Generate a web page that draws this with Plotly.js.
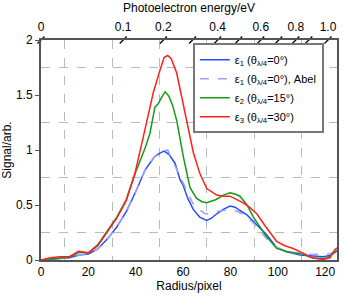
<!DOCTYPE html>
<html>
<head>
<meta charset="utf-8">
<script src="https://cdn.plot.ly/plotly-3.0.1.min.js"></script>
<style>html,body{margin:0;padding:0;background:#fff}#chart{width:345px;height:299px}</style>
</head>
<body>
<div id="chart"></div>
<script>
// Radius (pixel) sample positions and signals
const blueX  = [0, 4, 8, 12, 16, 20, 24, 28, 32, 36, 40, 44, 48, 50, 52, 54, 56.6, 58.7, 60, 62, 64.3, 67, 70, 72, 74.2, 77, 79.8, 82, 84, 87, 89.7, 92.5, 95.3, 99.5, 103.7, 109.4, 115, 119.2, 122, 124.2, 125];
const blueY  = [0, 0.005, 0.01, 0.02, 0.045, 0.055, 0.1, 0.19, 0.3, 0.44, 0.62, 0.82, 0.94, 0.97, 0.99, 0.96, 0.88, 0.73, 0.68, 0.56, 0.46, 0.39, 0.36, 0.38, 0.42, 0.46, 0.49, 0.48, 0.45, 0.41, 0.35, 0.29, 0.23, 0.115, 0.075, 0.045, 0.035, 0.03, 0.04, 0.075, 0.085];

const abelX  = [0, 4, 8, 12, 16, 20, 24, 28, 32, 36, 40, 44, 48, 50, 52, 53.5, 55.2, 58, 60, 62, 64, 66, 69.3, 72, 74, 77, 79.8, 82, 85, 88, 90, 95, 100, 105, 110, 115, 120, 122, 124, 125];
const abelY  = [0, 0.005, 0.01, 0.02, 0.045, 0.055, 0.1, 0.19, 0.3, 0.44, 0.62, 0.82, 0.94, 0.97, 0.99, 1.0, 0.92, 0.79, 0.7, 0.6, 0.52, 0.47, 0.42, 0.42, 0.44, 0.45, 0.46, 0.45, 0.42, 0.37, 0.33, 0.2, 0.11, 0.07, 0.055, 0.05, 0.05, 0.055, 0.08, 0.09];

const greenX = [0, 4, 8, 12, 16, 20, 24, 28, 32, 36, 40, 44, 46, 48.1, 49.5, 51, 52.4, 54, 55.5, 57.3, 60.1, 62.9, 65.7, 68, 70, 74, 77, 79.8, 82, 84, 87, 89.7, 92.5, 95, 99.5, 104, 109.4, 115, 120.6, 124, 125];
const greenY = [0, 0.01, 0.015, 0.025, 0.07, 0.065, 0.14, 0.27, 0.39, 0.55, 0.8, 1.02, 1.15, 1.39, 1.42, 1.48, 1.53, 1.49, 1.41, 1.27, 0.94, 0.66, 0.56, 0.53, 0.52, 0.55, 0.59, 0.61, 0.6, 0.58, 0.5, 0.39, 0.3, 0.22, 0.105, 0.075, 0.06, 0.015, 0.015, 0.06, 0.08];

const redX   = [0, 4, 8, 12, 15.8, 20, 24, 28, 32, 36, 39.7, 43.2, 47.4, 50.3, 52, 53.5, 55, 57.3, 60.8, 64.3, 67, 70, 74.2, 77, 79.8, 82.5, 85.4, 88, 91.1, 95, 99.5, 103, 106.5, 110, 113.6, 116.5, 119.2, 122, 124, 125];
const redY   = [0, 0.02, 0.03, 0.03, 0.08, 0.065, 0.13, 0.26, 0.38, 0.54, 0.79, 1.12, 1.52, 1.73, 1.84, 1.86, 1.83, 1.7, 1.33, 0.98, 0.79, 0.65, 0.59, 0.58, 0.58, 0.55, 0.52, 0.48, 0.42, 0.3, 0.17, 0.13, 0.105, 0.07, 0.03, 0.012, 0.005, 0.02, 0.09, 0.11];

// Top energy axis: labelled positions (in radius units) and all slash-tick positions
const energyLabelPos  = [0, 34.7, 51.7, 74.6, 92.8, 107.6, 121.2];
const energyLabelText = ['0', '0.1', '0.2', '0.4', '0.6', '0.8', '1.0'];
const energyTickPos   = [0, 34.7, 51.7, 64, 74.6, 83.5, 92.8, 100.4, 107.6, 113.1, 121.2, 125.4];
const energyTickLevel = energyTickPos.map(() => 2);

const seriesNames = [
  'ε<sub>1</sub> (θ<sub>λ/4</sub>=0°)',
  'ε<sub>1</sub> (θ<sub>λ/4</sub>=0°), Abel',
  'ε<sub>2</sub> (θ<sub>λ/4</sub>=15°)',
  'ε<sub>3</sub> (θ<sub>λ/4</sub>=30°)'
];

const FONT = 'Liberation Sans, Arial, sans-serif';
const gridCol = '#b4bcbc';

const traces = [
  {x: blueX, y: blueY, name: seriesNames[0], mode: 'lines', line: {color: '#2a4dff', width: 1.5}},
  {x: abelX, y: abelY, name: seriesNames[1], mode: 'lines', line: {color: '#9aa0ff', width: 1.5, dash: 'dash'}},
  {x: greenX, y: greenY, name: seriesNames[2], mode: 'lines', line: {color: '#179a17', width: 1.5}},
  {x: redX, y: redY, name: seriesNames[3], mode: 'lines', line: {color: '#ff2020', width: 1.5}},
  {x: energyTickPos, y: energyTickLevel, xaxis: 'x2', yaxis: 'y', mode: 'markers', showlegend: false,
   hoverinfo: 'skip', cliponaxis: false,
   marker: {symbol: 'line-ne', size: 7, color: '#000', line: {color: '#000', width: 1.2}}}
];

const layout = {
  width: 345, height: 299,
  margin: {l: 41, r: 8, t: 40, b: 39},
  paper_bgcolor: '#fff', plot_bgcolor: '#fff',
  font: {family: FONT, size: 11, color: '#000'},
  showlegend: true,
  legend: {
    x: 0.513, y: 0.985, xanchor: 'left', yanchor: 'top',
    bgcolor: '#fff', bordercolor: '#777', borderwidth: 2,
    font: {family: FONT, size: 11, color: '#000'},
    tracegroupgap: 0, itemwidth: 30
  },
  xaxis: {
    range: [0, 125], dtick: 20, tick0: 0,
    showline: true, linecolor: '#555', linewidth: 2, mirror: true,
    ticks: '', showgrid: false, zeroline: false,
    minor: {dtick: 10, showgrid: true, gridcolor: gridCol, griddash: 'dash', gridwidth: 1},
    tickfont: {size: 12},
    title: {text: 'Radius/pixel', font: {size: 12}, standoff: 2}
  },
  xaxis2: {
    range: [0, 125], overlaying: 'x', side: 'top',
    tickmode: 'array', tickvals: energyLabelPos, ticktext: energyLabelText,
    ticks: '', showgrid: false, zeroline: false, showline: false,
    ticklabelstandoff: 6,
    tickfont: {size: 12},
    title: {text: 'Photoelectron energy/eV', font: {size: 12}, standoff: 4}
  },
  yaxis: {
    range: [0, 2], dtick: 0.5, tick0: 0,
    showline: true, linecolor: '#555', linewidth: 2, mirror: true,
    ticks: 'outside', ticklen: 4, tickcolor: '#555',
    showgrid: false, zeroline: false,
    minor: {dtick: 0.25, showgrid: true, gridcolor: gridCol, griddash: 'dash', gridwidth: 1},
    tickfont: {size: 12},
    title: {text: 'Signal/arb.', font: {size: 12}, standoff: 6}
  }
};

Plotly.newPlot('chart', traces, layout, {displayModeBar: false, staticPlot: true});
</script>
</body>
</html>
